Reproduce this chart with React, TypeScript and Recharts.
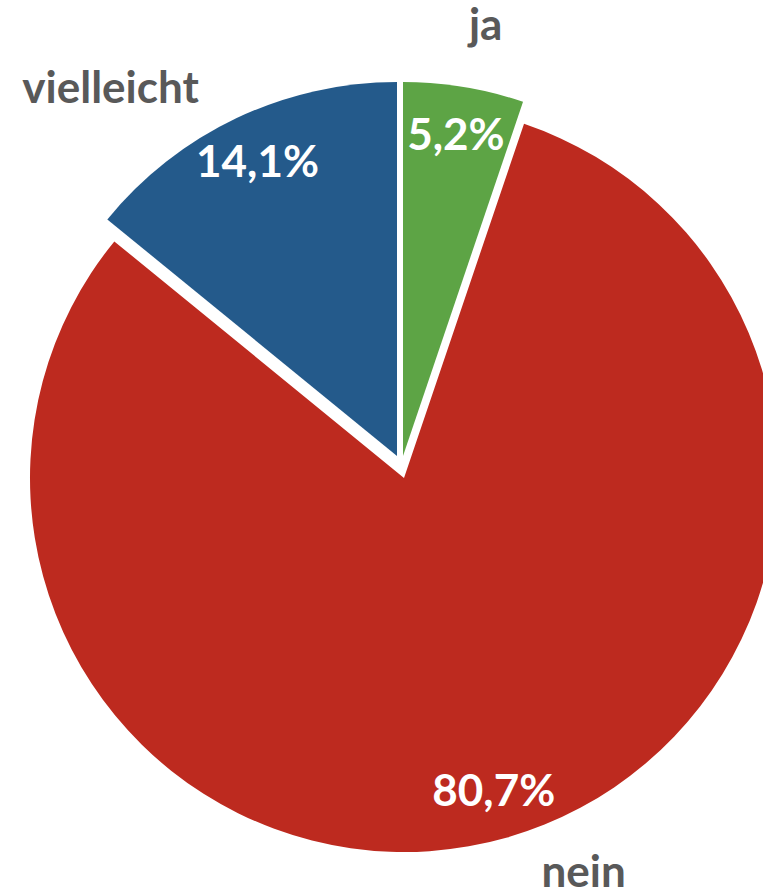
import React from 'react';
import { PieChart, Pie, Cell } from 'recharts';

const categories = ['ja', 'nein', 'vielleicht'];
const shares = [5.2, 80.7, 14.1];
const percentLabels = ['5,2%', '80,7%', '14,1%'];
const colors = ['#5DA445', '#BD2A1F', '#245A8B'];

const data = categories.map((name, i) => ({ name, value: shares[i] }));

const W = 763;
const H = 890;
const R = 374;
// each slice is drawn slightly displaced (exploded look of the original)
const centers: number[][] = [
  [403, 456],
  [404, 478],
  [397, 456],
];
const outerTweak: Record<string, { anchor: 'start' | 'middle' | 'end'; dx: number; dy: number }> = {
  ja: { anchor: 'middle', dx: 17, dy: -17 },
  nein: { anchor: 'start', dx: 26, dy: 21 },
  vielleicht: { anchor: 'end', dx: -25, dy: 12 },
};

const FONT = 'Lato, "Open Sans", sans-serif';

const makeLabel = (target: number) => (props: any) => {
  const { cx, cy, midAngle, outerRadius, index } = props;
  if (index !== target) return null;
  const rad = Math.PI / 180;
  const ux = Math.cos(-midAngle * rad);
  const uy = Math.sin(-midAngle * rad);
  const ir = outerRadius * 0.87;
  const or = outerRadius + 30;
  const t = outerTweak[categories[index]];
  return (
    <g>
      <text
        x={cx + ir * ux}
        y={cy + ir * uy + 15}
        textAnchor="middle"
        fill="#ffffff"
        fontSize={44}
        fontWeight={700}
        fontFamily={FONT}
      >
        {percentLabels[index]}
      </text>
      <text
        x={cx + or * ux + t.dx}
        y={cy + or * uy + t.dy}
        textAnchor={t.anchor}
        fill="#595959"
        fontSize={44}
        fontWeight={700}
        fontFamily={FONT}
      >
        {categories[index]}
      </text>
    </g>
  );
};

const order = [1, 0, 2];

export default function App() {
  return (
    <div style={{ position: 'absolute', left: 0, top: 0, width: W, height: H, background: '#fff' }}>
      <PieChart width={W} height={H} margin={{ top: 0, right: 0, bottom: 0, left: 0 }}>
        {order.map((target) => (
          <Pie
            key={target}
            data={data}
            dataKey="value"
            nameKey="name"
            cx={centers[target][0]}
            cy={centers[target][1]}
            outerRadius={R}
            innerRadius={0}
            startAngle={90}
            endAngle={-270}
            stroke="none"
            isAnimationActive={false}
            labelLine={false}
            label={makeLabel(target)}
          >
            {data.map((d, i) => (
              <Cell key={d.name} fill={i === target ? colors[i] : 'none'} stroke="none" />
            ))}
          </Pie>
        ))}
      </PieChart>
    </div>
  );
}
